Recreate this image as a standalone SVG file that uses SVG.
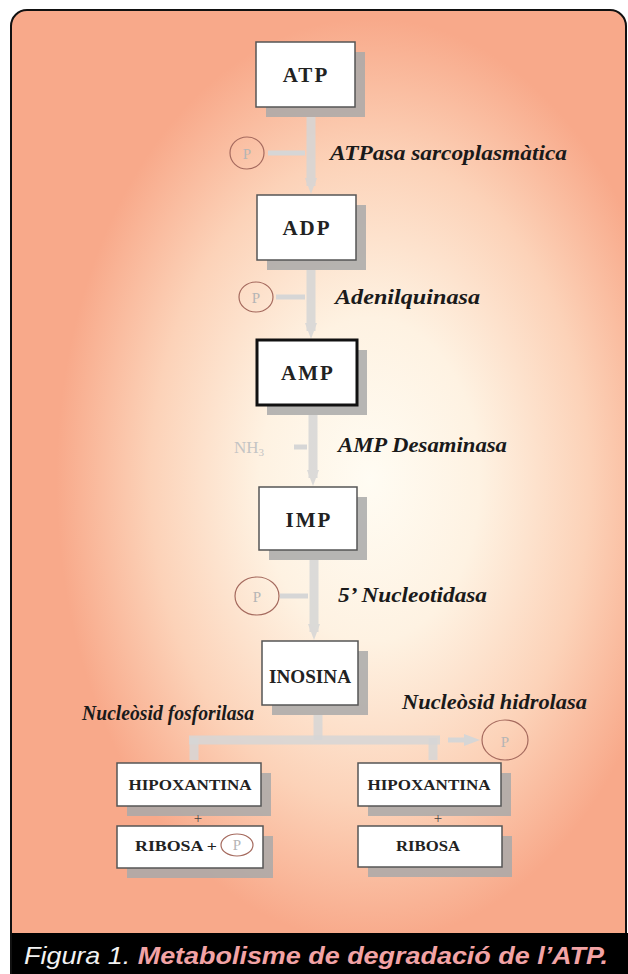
<svg xmlns="http://www.w3.org/2000/svg" width="628" height="974" viewBox="0 0 628 974">
<defs>
<radialGradient id="bg" cx="370" cy="480" r="330" gradientUnits="userSpaceOnUse" gradientTransform="translate(370 480) scale(0.95 1.4) translate(-370 -480)">
<stop offset="0" stop-color="#fffcf3"/>
<stop offset="0.35" stop-color="#fef2e2"/>
<stop offset="0.7" stop-color="#fcd2b8"/>
<stop offset="1" stop-color="#f8a98a"/>
</radialGradient>
<marker id="ah" markerWidth="16" markerHeight="12" refX="8" refY="6" orient="auto" markerUnits="userSpaceOnUse">
<path d="M0,0 L16,6 L0,12 z" fill="#d6d6d6"/>
</marker>
<style>
.box{fill:#fff;stroke:#555;stroke-width:1.5}
.thick{stroke:#111;stroke-width:3}
.sh{fill:#a9a9a9;opacity:0.85}
.lbl{font-family:"Liberation Serif",serif;font-weight:bold;fill:#222;text-anchor:middle}
.big{font-size:21px;letter-spacing:2px}
.sm{font-size:14px}
.enz{font-family:"Liberation Serif",serif;font-weight:bold;font-style:italic;font-size:21px;fill:#1a1a1a}
.pc{fill:none;stroke:#a56a5e;stroke-width:1.2}
.pt{font-family:"Liberation Serif",serif;font-size:15px;fill:#b5b5b5;text-anchor:middle}
.bar{stroke:#d6d6d6;stroke-width:9;fill:none;opacity:0.85}
.nub{stroke:#d6d6d6;stroke-width:5;fill:none}
</style>
</defs>
<rect x="0" y="0" width="628" height="974" fill="#fff"/>
<rect x="11" y="10" width="615" height="990" rx="16" fill="url(#bg)" stroke="#111" stroke-width="2"/>

<g id="connectors">
<line class="bar" x1="311" y1="117" x2="311" y2="186" marker-end="url(#ah)"/>
<line class="nub" x1="305" y1="153" x2="268" y2="153"/>
<line class="bar" x1="311" y1="270" x2="311" y2="331" marker-end="url(#ah)"/>
<line class="nub" x1="305" y1="297" x2="276" y2="297"/>
<line class="bar" x1="313" y1="415" x2="313" y2="478" marker-end="url(#ah)"/>
<line class="nub" x1="307" y1="447" x2="294" y2="447"/>
<line class="bar" x1="314" y1="560" x2="314" y2="632" marker-end="url(#ah)"/>
<line class="nub" x1="308" y1="596" x2="280" y2="596"/>
<line class="bar" x1="318" y1="715" x2="318" y2="740"/>
<line class="bar" x1="189" y1="740" x2="440" y2="740"/>
<line class="bar" x1="194" y1="738" x2="194" y2="760"/>
<line class="bar" x1="433" y1="738" x2="433" y2="760"/>
<line class="nub" x1="448" y1="740" x2="472" y2="740" marker-end="url(#ah)"/>
</g>

<g id="ATP">
<rect class="sh" x="266" y="52" width="99" height="65"/>
<rect class="box" x="256" y="42" width="99" height="65"/>
<text class="lbl big" x="306" y="82">ATP</text>
</g>
<g id="P1">
<ellipse class="pc" cx="247" cy="153" rx="17" ry="16"/>
<text class="pt" x="247" y="159">P</text>
</g>
<text id="e1" class="enz" x="330" y="160" textLength="237" lengthAdjust="spacingAndGlyphs">ATPasa sarcoplasmàtica</text>

<g id="ADP">
<rect class="sh" x="267" y="205" width="99" height="65"/>
<rect class="box" x="257" y="195" width="99" height="65"/>
<text class="lbl big" x="307" y="235">ADP</text>
</g>
<g id="P2">
<ellipse class="pc" cx="256" cy="297" rx="17" ry="15"/>
<text class="pt" x="256" y="303">P</text>
</g>
<text id="e2" class="enz" x="335" y="304" textLength="145" lengthAdjust="spacingAndGlyphs">Adenilquinasa</text>

<g id="AMP">
<rect class="sh" x="267" y="350" width="100" height="65"/>
<rect class="box thick" x="257" y="340" width="100" height="65"/>
<text class="lbl big" x="308" y="380">AMP</text>
</g>
<g id="NH3">
<text x="234" y="453" font-family="Liberation Serif,serif" font-size="17" fill="#c4c4c4">NH<tspan font-size="11" dy="3">3</tspan></text>
</g>
<text id="e3" class="enz" x="338" y="452" textLength="169" lengthAdjust="spacingAndGlyphs">AMP Desaminasa</text>

<g id="IMP">
<rect class="sh" x="269" y="497" width="98" height="63"/>
<rect class="box" x="259" y="487" width="98" height="63"/>
<text class="lbl big" x="309" y="527">IMP</text>
</g>
<g id="P3">
<ellipse class="pc" cx="257" cy="596" rx="22" ry="19"/>
<text class="pt" x="257" y="602">P</text>
</g>
<text id="e4" class="enz" x="338" y="602" textLength="149" lengthAdjust="spacingAndGlyphs">5’ Nucleotidasa</text>

<g id="INOSINA">
<rect class="sh" x="272" y="651" width="96" height="64"/>
<rect class="box" x="262" y="641" width="96" height="64"/>
<text class="lbl" x="310" y="683" font-size="18" textLength="82" lengthAdjust="spacingAndGlyphs">INOSINA</text>
</g>
<text id="e5" class="enz" x="82" y="720" textLength="172" lengthAdjust="spacingAndGlyphs">Nucleòsid fosforilasa</text>
<text id="e6" class="enz" x="402" y="709" textLength="185" lengthAdjust="spacingAndGlyphs">Nucleòsid hidrolasa</text>
<g id="P4">
<ellipse class="pc" cx="505" cy="740" rx="23" ry="20"/>
<text class="pt" x="505" y="747" font-size="18">P</text>
</g>

<g id="HIPOXANTINA1">
<rect class="sh" x="127" y="773" width="144" height="43"/>
<rect class="box" x="117" y="763" width="144" height="43"/>
<text class="lbl sm" x="190" y="790" textLength="123" lengthAdjust="spacingAndGlyphs">HIPOXANTINA</text>
</g>
<g id="HIPOXANTINA2">
<rect class="sh" x="368" y="773" width="143" height="43"/>
<rect class="box" x="358" y="763" width="143" height="43"/>
<text class="lbl sm" x="429" y="790" textLength="123" lengthAdjust="spacingAndGlyphs">HIPOXANTINA</text>
</g>
<text id="plus1" x="198" y="823" font-family="Liberation Serif,serif" font-size="15" fill="#444" text-anchor="middle">+</text>
<text id="plus2" x="438" y="823" font-family="Liberation Serif,serif" font-size="15" fill="#444" text-anchor="middle">+</text>

<g id="RIBOSA1">
<rect class="sh" x="127" y="836" width="146" height="42"/>
<rect class="box" x="117" y="826" width="146" height="42"/>
<text class="lbl sm" x="135" y="851" style="text-anchor:start" textLength="82" lengthAdjust="spacingAndGlyphs">RIBOSA +</text>
<ellipse class="pc" cx="237" cy="845" rx="16" ry="11"/>
<text class="pt" x="237" y="850" font-size="13">P</text>
</g>
<g id="RIBOSA2">
<rect class="sh" x="368" y="836" width="144" height="41"/>
<rect class="box" x="358" y="826" width="144" height="41"/>
<text class="lbl sm" x="428" y="851" textLength="64" lengthAdjust="spacingAndGlyphs">RIBOSA</text>
</g>

<g id="caption">
<rect x="12" y="933" width="616" height="41" fill="#000"/>
<text x="24" y="964" font-family="Liberation Sans,Arial,sans-serif" font-style="italic" font-size="24" fill="#f2f2f2" textLength="584" lengthAdjust="spacingAndGlyphs">Figura 1. <tspan font-weight="bold" fill="#f2a3a5">Metabolisme de degradació de l’ATP.</tspan></text>
</g>
</svg>
